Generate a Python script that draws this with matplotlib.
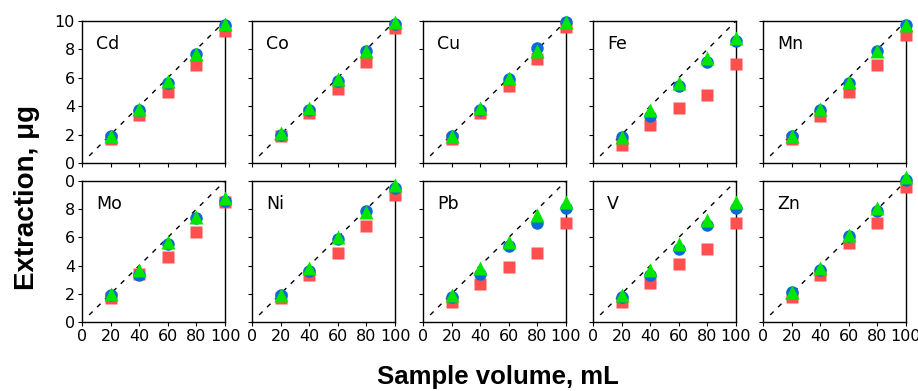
import matplotlib
matplotlib.use("Agg")
import matplotlib.pyplot as plt
import numpy as np

volumes = [20, 40, 60, 80, 100]
elements = ["Cd", "Co", "Cu", "Fe", "Mn", "Mo", "Ni", "Pb", "V", "Zn"]

red_sq = {
    "Cd": [1.7, 3.4, 5.0, 6.9, 9.3],
    "Co": [1.9, 3.5, 5.2, 7.1, 9.5],
    "Cu": [1.7, 3.5, 5.4, 7.3, 9.6],
    "Fe": [1.3, 2.7, 3.9, 4.8, 7.0],
    "Mn": [1.7, 3.3, 5.0, 6.9, 9.0],
    "Mo": [1.7, 3.4, 4.6, 6.4, 8.5],
    "Ni": [1.7, 3.3, 4.9, 6.8, 9.0],
    "Pb": [1.4, 2.7, 3.9, 4.9, 7.0],
    "V":  [1.4, 2.8, 4.1, 5.2, 7.0],
    "Zn": [1.8, 3.3, 5.6, 7.0, 9.6],
}
blue_ci = {
    "Cd": [1.9, 3.7, 5.6, 7.7, 9.7],
    "Co": [2.0, 3.7, 5.8, 7.9, 9.8],
    "Cu": [1.9, 3.7, 5.9, 8.1, 9.95],
    "Fe": [1.8, 3.3, 5.4, 7.1, 8.6],
    "Mn": [1.9, 3.7, 5.6, 7.9, 9.7],
    "Mo": [1.9, 3.3, 5.5, 7.4, 8.6],
    "Ni": [1.9, 3.6, 5.9, 7.9, 9.5],
    "Pb": [1.8, 3.4, 5.4, 7.0, 8.1],
    "V":  [1.8, 3.3, 5.2, 6.9, 8.1],
    "Zn": [2.1, 3.7, 6.1, 7.9, 10.1],
}
green_tri = {
    "Cd": [1.9, 3.8, 5.8, 7.7, 9.8],
    "Co": [2.1, 3.9, 5.9, 7.9, 9.95],
    "Cu": [1.9, 3.9, 6.0, 7.9, 9.95],
    "Fe": [1.85, 3.7, 5.6, 7.4, 8.8],
    "Mn": [1.9, 3.8, 5.7, 7.9, 9.75],
    "Mo": [2.0, 3.7, 5.7, 7.45, 8.8],
    "Ni": [1.9, 3.8, 6.0, 7.8, 9.7],
    "Pb": [1.9, 3.8, 5.7, 7.6, 8.5],
    "V":  [1.9, 3.7, 5.5, 7.2, 8.5],
    "Zn": [2.1, 3.8, 6.2, 8.1, 10.3],
}
x_ticks = [0, 20, 40, 60, 80, 100]
y_ticks = [0, 2, 4, 6, 8, 10]
y_labels_top = ["0", "2", "4", "6", "8", "10"]
y_labels_bottom = ["0", "2", "4", "6", "8", "0"]
ref_x = np.array([5, 100])

W, H = 918, 391
fig = plt.figure(figsize=(W / 100, H / 100), dpi=100)

lefts = [82, 252, 423, 593, 763]
pw = 143
rows = [(21, 163), (181, 322)]

red_c = "#ff4f4f"
blue_c = "#0a6ad8"
green_c = "#00e600"

for i, el in enumerate(elements):
    r, c = divmod(i, 5)
    top, bot = rows[r]
    ax = fig.add_axes([lefts[c] / W, 1 - bot / H, pw / W, (bot - top) / H])
    ax.set_xlim(0, 100)
    ax.set_ylim(0, 10)
    ax.plot(ref_x, ref_x / 10, color="black", lw=1.0, dashes=(3.5, 4.5), zorder=1)
    ax.plot(volumes, red_sq[el], "s", color=red_c, ms=8.5, mec="none", clip_on=False, zorder=3)
    ax.plot(volumes, blue_ci[el], "o", color=blue_c, ms=9, mec="none", clip_on=False, zorder=4)
    ax.plot(volumes, green_tri[el], "^", color=green_c, ms=10.5, mec="none", clip_on=False, zorder=5)
    ax.text(0.1, 0.84, el, transform=ax.transAxes, fontsize=12.5, ha="left", va="center")
    ax.set_xticks(x_ticks)
    ax.set_yticks(y_ticks)
    ax.tick_params(direction="out", length=3, width=0.8, labelsize=11.5, pad=2)
    for s in ax.spines.values():
        s.set_linewidth(1.0)
    if r == 0:
        ax.set_xticklabels([])
    else:
        ax.set_xticklabels([str(t) for t in x_ticks])
    if c == 0:
        ax.set_yticklabels(y_labels_top if r == 0 else y_labels_bottom)
    else:
        ax.set_yticklabels([])

fig.text(27 / W, 1 - 198 / H, "Extraction, μg", rotation=90, ha="center", va="center",
         fontsize=20, fontweight="bold", family="Liberation Sans")
fig.text(498 / W, 1 - 377 / H, "Sample volume, mL", ha="center", va="center",
         fontsize=18.5, fontweight="bold", family="Liberation Sans")

fig.savefig("out.png", dpi=100)
